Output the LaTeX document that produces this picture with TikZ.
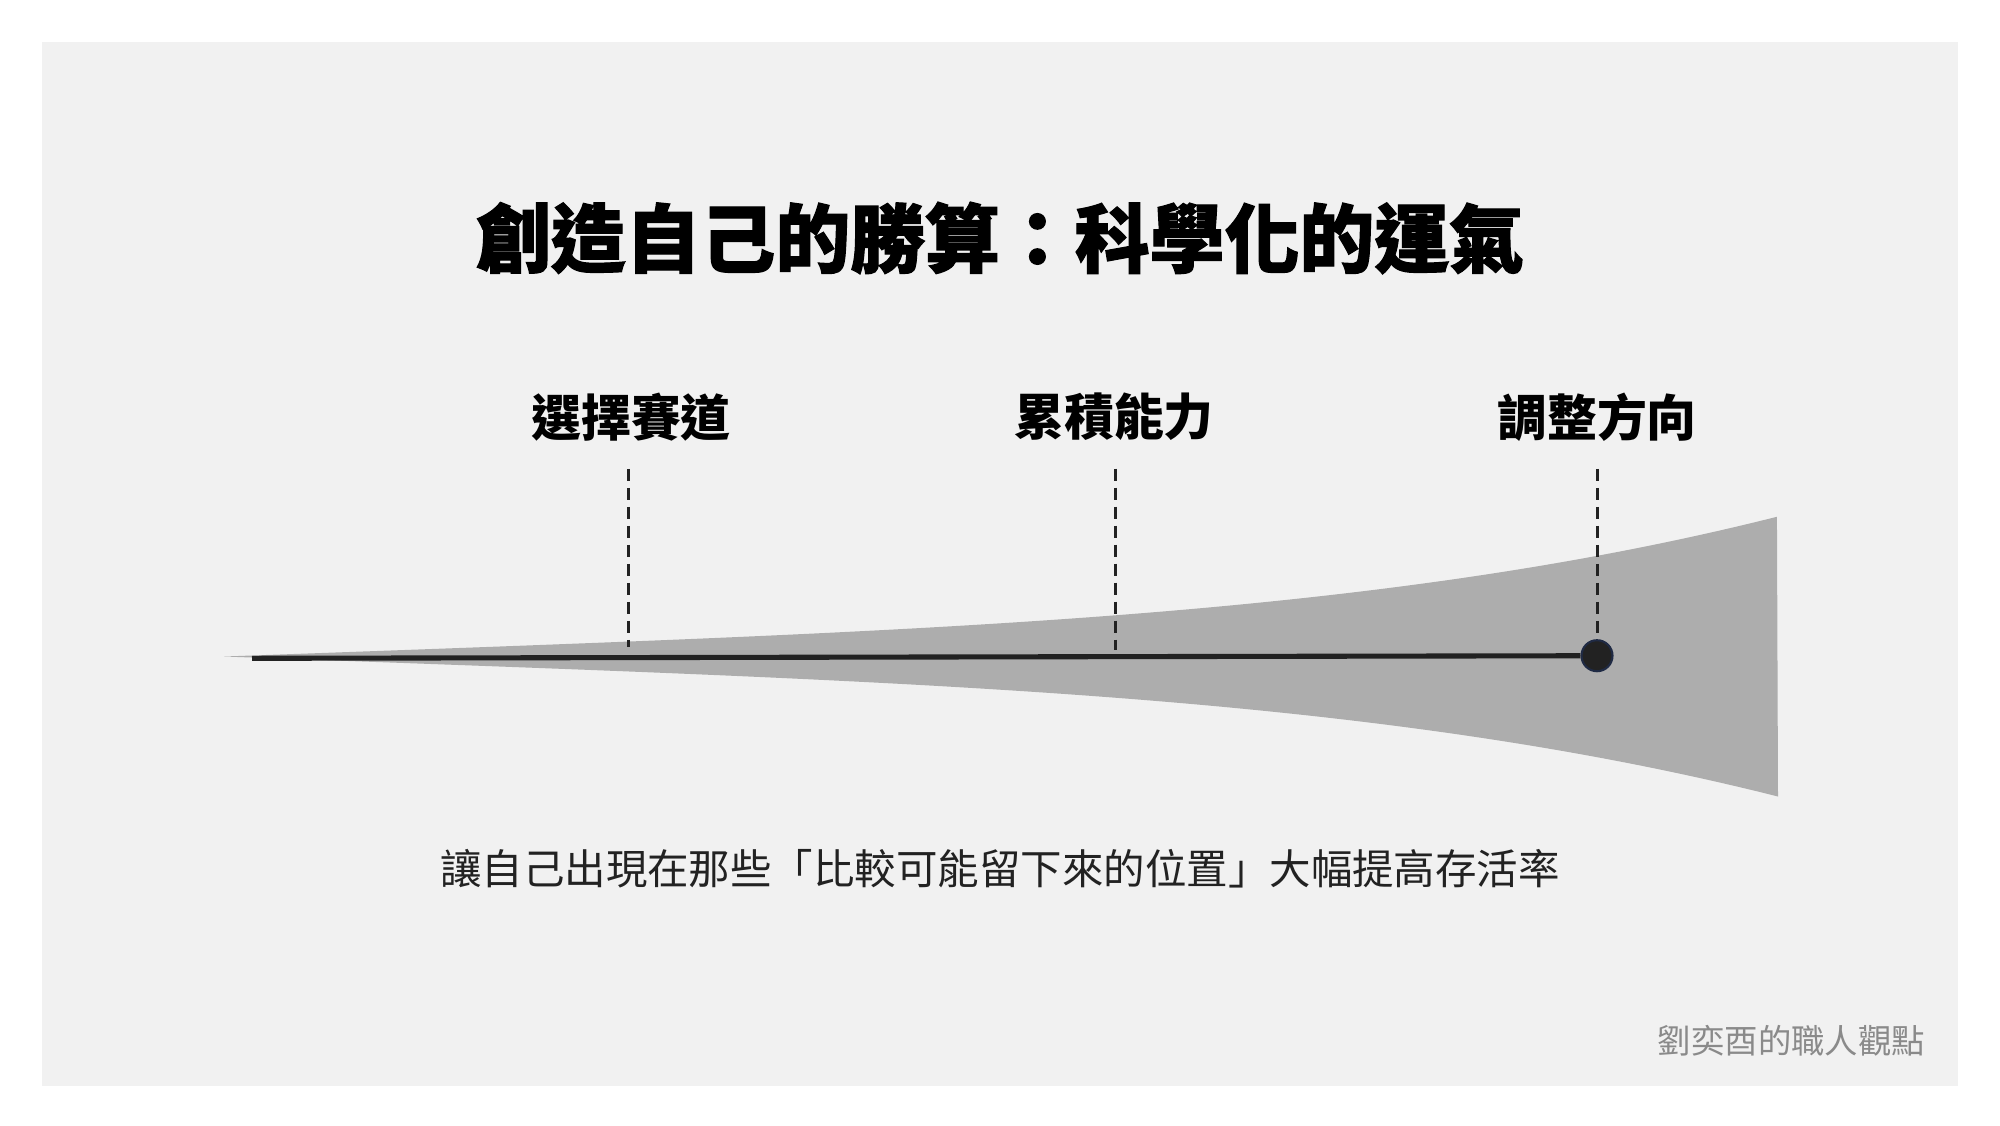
\documentclass[tikz,border=0pt]{standalone}
\usepackage{fontspec}
\usepackage{tikz}
\newfontfamily\cjk{Noto Sans CJK TC}
\newfontfamily\cjkheavy[BoldFeatures={FakeBold=1.5}]{Noto Sans CJK TC}
\definecolor{panelgray}{HTML}{F1F1F1}
\definecolor{wedgegray}{HTML}{ADADAD}
\definecolor{inkdark}{HTML}{222222}
\definecolor{dotrim}{HTML}{1F2A44}
\definecolor{signgray}{HTML}{8A8A8A}
\tikzstyle{every node}=[inner sep=0pt, anchor=center]
\tikzstyle{title}=[font=\cjkheavy\bfseries\fontsize{21.3pt}{25pt}\selectfont, text=black]
\tikzstyle{steplabel}=[font=\cjk\bfseries\fontsize{14.2pt}{17pt}\selectfont, text=black]
\tikzstyle{note}=[font=\cjk\fontsize{11.8pt}{14pt}\selectfont, text=inkdark]
\tikzstyle{sign}=[font=\cjk\fontsize{9.5pt}{12pt}\selectfont, text=signgray]
\tikzstyle{guide}=[inkdark, line width=0.85pt, dash pattern=on 0.12cm off 0.07cm]

\begin{document}
\begin{tikzpicture}
  % Canvas and panel
  \useasboundingbox[fill=white] (0,0) rectangle (20,-11.25);
  \fill[panelgray] (0.42,-0.42) rectangle (19.58,-10.86);

  % Title
  \node[title] (head) at (10,-2.38) {創造自己的勝算：科學化的運氣};

  % Widening wedge
  \fill[wedgegray]
    plot[domain=0:1, samples=80, variable=\t] ({2.24+15.54*\t}, {-6.565+1.4*(0.4*\t+0.6*\t^4)})
    -- plot[domain=1:0, samples=80, variable=\t] ({2.24+15.54*\t}, {-6.565-1.4*(0.4*\t+0.6*\t^4)})
    -- cycle;

  % Path and end point
  \coordinate (start) at (2.52,-6.583);
  \node[circle, minimum size=0.31cm, fill=inkdark, draw=dotrim, line width=0.6pt] (goal) at (15.97,-6.557) {};
  \draw[inkdark, line width=1.45pt] (start) -- (goal);

  % Stage labels
  \node[steplabel] (track) at (6.31,-4.17) {選擇賽道};
  \node[steplabel] (skill) at (11.14,-4.17) {累積能力};
  \node[steplabel] (turn) at (15.97,-4.17) {調整方向};

  % Guide lines
  \coordinate (trackend) at (6.28,-6.47);
  \coordinate (skillend) at (11.15,-6.50);
  \draw[guide] ([yshift=-0.27cm]track.south -| trackend) -- (trackend);
  \draw[guide] ([yshift=-0.27cm]skill.south -| skillend) -- (skillend);
  \draw[guide] ([yshift=-0.27cm]turn.south -| goal) -- (goal.north);

  % Caption
  \node[note] (caption) at (10,-8.69) {讓自己出現在那些「比較可能留下來的位置」大幅提高存活率};

  % Signature
  \node[sign] (brand) at (17.915,-10.41) {劉奕酉的職人觀點};
\end{tikzpicture}
\end{document}
